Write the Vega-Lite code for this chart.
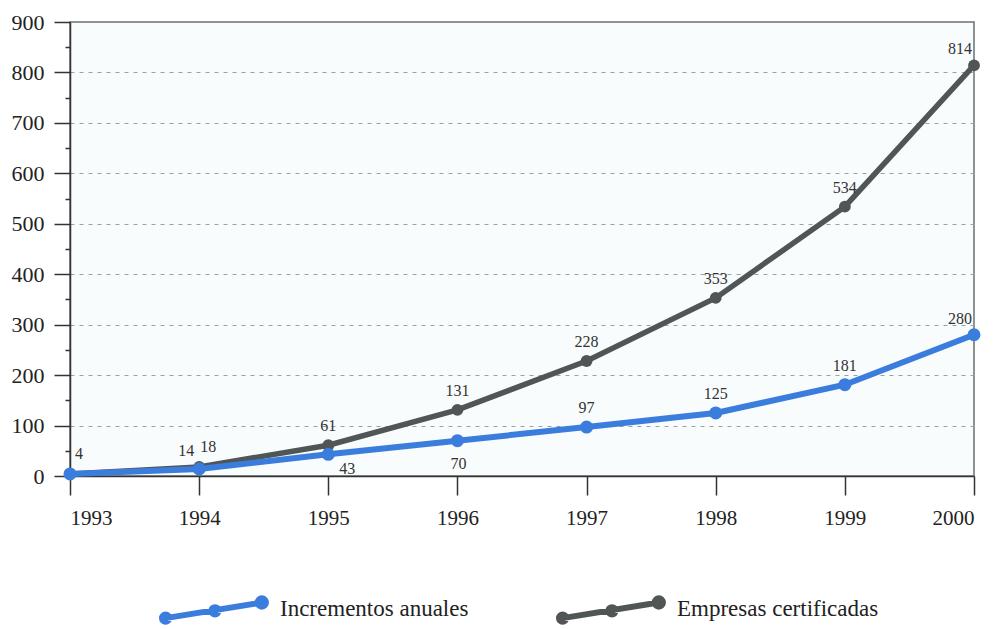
{
  "$schema": "https://vega.github.io/schema/vega-lite/v6.json",
  "autosize": {"type": "none"},
  "width": 904,
  "height": 454,
  "padding": {"left": 70, "top": 22, "right": 22, "bottom": 153},
  "background": "#ffffff",
  "config": {
    "font": "Liberation Serif",
    "view": {"stroke": "#6a7072", "strokeWidth": 1.5, "fill": "#f9fcfd"},
    "axis": {"labelFont": "Liberation Serif", "labelColor": "#222222", "domainColor": "#333333", "tickColor": "#333333", "domainWidth": 1.5, "tickWidth": 1.5},
    "text": {"font": "Liberation Serif"},
    "legend": {"labelFont": "Liberation Serif"}
  },
  "data": {
    "values": [
      {"year": 1993, "serie": "Incrementos anuales", "v": 4},
      {"year": 1994, "serie": "Incrementos anuales", "v": 14},
      {"year": 1995, "serie": "Incrementos anuales", "v": 43},
      {"year": 1996, "serie": "Incrementos anuales", "v": 70},
      {"year": 1997, "serie": "Incrementos anuales", "v": 97},
      {"year": 1998, "serie": "Incrementos anuales", "v": 125},
      {"year": 1999, "serie": "Incrementos anuales", "v": 181},
      {"year": 2000, "serie": "Incrementos anuales", "v": 280},
      {"year": 1993, "serie": "Empresas certificadas", "v": 4},
      {"year": 1994, "serie": "Empresas certificadas", "v": 18},
      {"year": 1995, "serie": "Empresas certificadas", "v": 61},
      {"year": 1996, "serie": "Empresas certificadas", "v": 131},
      {"year": 1997, "serie": "Empresas certificadas", "v": 228},
      {"year": 1998, "serie": "Empresas certificadas", "v": 353},
      {"year": 1999, "serie": "Empresas certificadas", "v": 534},
      {"year": 2000, "serie": "Empresas certificadas", "v": 814}
    ]
  },
  "encoding": {
    "x": {"field": "year", "type": "quantitative", "scale": {"domain": [1993, 2000], "nice": false, "zero": false},
      "axis": {"title": null, "format": "d", "values": [1993, 1994, 1995, 1996, 1997, 1998, 1999, 2000], "grid": false, "tickSize": 19, "labelPadding": 12, "labelFontSize": 21, "domain": true}},
    "y": {"field": "v", "type": "quantitative", "scale": {"domain": [0, 900], "nice": false},
      "axis": {"title": null, "values": [0, 50, 100, 150, 200, 250, 300, 350, 400, 450, 500, 550, 600, 650, 700, 750, 800, 850, 900],
        "labelExpr": "datum.value % 100 === 0 ? datum.label : ''",
        "labelFontSize": 22,
        "tickSize": {"expr": "datum.value % 100 === 0 ? 16 : 5"},
        "labelPadding": 10, "grid": true, "gridDash": [4, 5], "gridColor": "#9aa0a4", "gridWidth": 1.2,
        "gridOpacity": {"expr": "(datum.value % 100 === 0 && datum.value > 0 && datum.value < 900) ? 1 : 0"}}}
  },
  "layer": [
    {
      "transform": [{"filter": "datum.serie == 'Empresas certificadas'"}],
      "mark": {"type": "line", "strokeWidth": 5.5},
      "encoding": {
        "color": {"field": "serie", "type": "nominal",
          "scale": {"domain": ["Incrementos anuales", "Empresas certificadas"], "range": ["#3b7ddd", "#505656"]},
          "legend": {"title": null, "orient": "none", "legendX": 90, "legendY": 532, "direction": "horizontal",
            "symbolType": "M-0.95,0.17L0.9,-0.13M-1.02,0.17A0.07,0.07 0 1,0 -0.88,0.17A0.07,0.07 0 1,0 -1.02,0.17M-0.07,0.03A0.07,0.07 0 1,0 0.07,0.03A0.07,0.07 0 1,0 -0.07,0.03M0.82,-0.13A0.08,0.08 0 1,0 0.98,-0.13A0.08,0.08 0 1,0 0.82,-0.13",
            "symbolSize": 10816, "symbolStrokeWidth": 6, "labelFontSize": 23, "labelFont": "Liberation Serif", "labelColor": "#222222", "labelOffset": 10, "columnPadding": 77, "labelLimit": 300,
            "encode": {"symbols": {"update": {"fill": {"scale": "color", "field": "value"}}}}}
        },
        "order": {"field": "year"}
      }
    },
    {
      "transform": [{"filter": "datum.serie == 'Incrementos anuales'"}],
      "mark": {"type": "line", "strokeWidth": 6},
      "encoding": {"color": {"field": "serie", "type": "nominal"}, "order": {"field": "year"}}
    },
    {
      "transform": [{"filter": "datum.serie == 'Empresas certificadas' && datum.year > 1993"}],
      "mark": {"type": "point", "filled": true, "size": 140, "opacity": 1, "shape": "circle"},
      "encoding": {"color": {"field": "serie", "type": "nominal"}}
    },
    {
      "transform": [{"filter": "datum.serie == 'Incrementos anuales'"}],
      "mark": {"type": "point", "filled": true, "size": 170, "opacity": 1, "shape": "circle"},
      "encoding": {"color": {"field": "serie", "type": "nominal"}}
    },
    {
      "transform": [{"filter": "datum.serie == 'Empresas certificadas' && datum.year >= 1995 && datum.year <= 1999"}],
      "mark": {"type": "text", "dy": -19, "fontSize": 16, "color": "#333333", "font": "Liberation Serif"},
      "encoding": {"text": {"field": "v", "type": "quantitative"}}
    },
    {
      "transform": [{"filter": "datum.serie == 'Empresas certificadas' && (datum.year == 1993 || datum.year == 1994)"}],
      "mark": {"type": "text", "dy": -20, "dx": 9, "fontSize": 16, "color": "#333333", "font": "Liberation Serif"},
      "encoding": {"text": {"field": "v", "type": "quantitative"}}
    },
    {
      "transform": [{"filter": "datum.serie == 'Empresas certificadas' && datum.year == 2000"}],
      "mark": {"type": "text", "dy": -16, "dx": -14, "fontSize": 16, "color": "#333333", "font": "Liberation Serif"},
      "encoding": {"text": {"field": "v", "type": "quantitative"}}
    },
    {
      "transform": [{"filter": "datum.serie == 'Incrementos anuales' && datum.year >= 1997 && datum.year <= 1999"}],
      "mark": {"type": "text", "dy": -19, "fontSize": 16, "color": "#333333", "font": "Liberation Serif"},
      "encoding": {"text": {"field": "v", "type": "quantitative"}}
    },
    {
      "transform": [{"filter": "datum.serie == 'Incrementos anuales' && datum.year == 1994"}],
      "mark": {"type": "text", "dy": -18, "dx": -13, "fontSize": 16, "color": "#333333", "font": "Liberation Serif"},
      "encoding": {"text": {"field": "v", "type": "quantitative"}}
    },
    {
      "transform": [{"filter": "datum.serie == 'Incrementos anuales' && datum.year == 2000"}],
      "mark": {"type": "text", "dy": -16, "dx": -14, "fontSize": 16, "color": "#333333", "font": "Liberation Serif"},
      "encoding": {"text": {"field": "v", "type": "quantitative"}}
    },
    {
      "transform": [{"filter": "datum.serie == 'Incrementos anuales' && datum.year == 1995"}],
      "mark": {"type": "text", "dy": 15, "dx": 19, "fontSize": 16, "color": "#333333", "font": "Liberation Serif"},
      "encoding": {"text": {"field": "v", "type": "quantitative"}}
    },
    {
      "transform": [{"filter": "datum.serie == 'Incrementos anuales' && datum.year == 1996"}],
      "mark": {"type": "text", "dy": 23, "dx": 1, "fontSize": 16, "color": "#333333", "font": "Liberation Serif"},
      "encoding": {"text": {"field": "v", "type": "quantitative"}}
    }
  ]
}
